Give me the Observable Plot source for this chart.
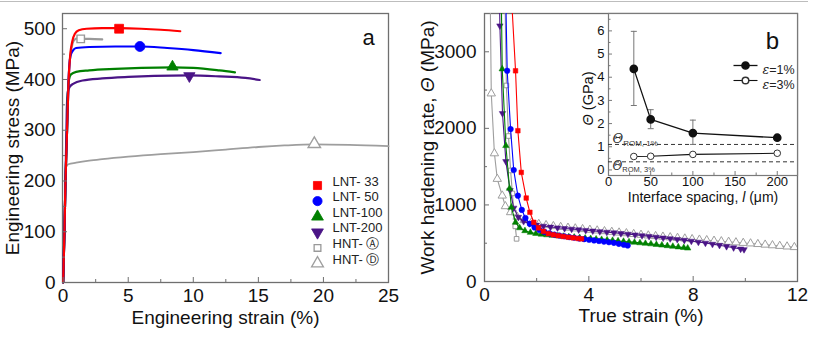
<!DOCTYPE html>
<html><head><meta charset="utf-8">
<script src="https://cdn.jsdelivr.net/npm/d3@7"></script>
<script src="https://cdn.jsdelivr.net/npm/@observablehq/plot@0.6"></script>
<style>
body{margin:0;background:#fff;}
#fig{position:relative;width:824px;height:350px;background:#fff;overflow:hidden;}
#fig > div{position:absolute;}
#topline{left:0;top:1px;width:808px;height:0;border-top:1px solid #bdbdbd;}
</style></head><body>
<div id="fig"><div id="topline"></div><div id="pa" style="left:0;top:0"></div><div id="pb" style="left:400px;top:0"></div><div id="pc" style="left:560px;top:0"></div></div>
<script>
// ---------- DATA: panel a (engineering stress-strain) ----------
const tensileNames = ["LNT- 33","LNT- 50","LNT-100","LNT-200","HNT- \u24B6","HNT- \u24B9"];
const tensileStrain = [
  [0,0.1,0.18,0.3,0.42,0.55,0.7,0.9,1.2,1.8,3,4.3,6,7.5,9],
  [0,0.1,0.18,0.3,0.42,0.55,0.75,1.0,2,4,5.9,8,10,12.1],
  [0,0.1,0.18,0.3,0.38,0.45,0.6,1.0,2,4,6,8.4,10,12,13.2],
  [0,0.1,0.18,0.28,0.35,0.5,0.8,1.5,3,5,7,9.7,12,14,15.1],
  [0,0.1,0.18,0.3,0.42,0.6,0.85,1.1,1.35,2,3.0],
  [0,0.1,0.14,0.2,0.4,1,2,3,5,7.5,10,12.5,15,17,19.3,22,25]
];
const tensileStress = [
  [0,100,200,300,400,450,475,490,497,500,501,501,500,498,495],
  [0,100,200,300,400,445,457,462,464,465,465,462,458,452],
  [0,100,200,300,380,400,410,415,418,421,423,424,423,418,414],
  [0,100,200,340,375,385,392,398,402,405,407,408,406,403,399],
  [0,100,200,300,400,455,478,481,480,480,479],
  [0,100,170,226,233,236,240,243,248,253,257,262,267,270,272,271,268.5]
];
const utsStrain = [4.3,5.9,8.4,9.7,1.35,19.3];
const utsStress = [500,465,425,407,480,273];

// ---------- DATA: panel b (work hardening rate) ----------
const whStrain = [
  [1.02,1.19,1.28,1.41,1.60,1.74,1.89,2.07,2.26,2.45,2.64,2.83,3.02,3.21,3.40,3.59,3.72],
  [0.81,0.87,1.00,1.12,1.28,1.43,1.57,1.74,1.92,2.11,2.30,2.49,2.68,2.87,3.06,3.25,3.44,3.63,3.82,4.01,4.20,4.39,4.58,4.77,4.96,5.15,5.34,5.49],
  [0.64,0.68,0.82,0.96,1.03,1.19,1.35,1.55,1.76,1.97,2.18,2.39,2.60,2.81,3.02,3.23,3.44,3.65,3.86,4.07,4.28,4.49,4.70,4.91,5.12,5.33,5.54,5.75,5.96,6.17,6.38,6.59,6.80,7.01,7.22,7.43,7.64,7.79],
  [0.57,0.59,0.69,0.82,0.98,1.12,1.30,1.50,1.72,1.99,2.26,2.53,2.80,3.07,3.34,3.61,3.88,4.15,4.42,4.69,4.96,5.23,5.50,5.77,6.04,6.31,6.58,6.85,7.12,7.39,7.66,7.93,8.20,8.47,8.74,9.01,9.28,9.55,9.82,9.95],
  [0.78,0.84,0.92,1.00,1.07,1.13,1.18,1.23],
  [0.22,0.26,0.38,0.49,0.68,0.80,1.00,1.25,1.52,1.80,2.08,2.36,2.64,2.92,3.20,3.48,3.76,4.04,4.32,4.60,4.88,5.16,5.44,5.72,6.00,6.28,6.56,6.84,7.12,7.40,7.68,7.96,8.24,8.52,8.80,9.08,9.36,9.64,9.92,10.20,10.48,10.76,11.04,11.32,11.60,11.88]
];
const whRate = [
  [3800,2752,1969,1425,1090,904,773,700,655,625,610,598,588,578,570,562,557],
  [3800,2752,1990,1456,1121,935,830,752,705,672,648,628,612,600,590,580,571,562,553,545,537,529,521,513,505,492,480,470],
  [3800,2775,1773,1216,969,773,700,662,640,626,616,608,601,595,589,583,577,571,565,559,553,547,541,535,529,523,517,511,504,497,490,482,474,466,458,450,442,435],
  [3800,3340,2195,1568,1190,960,840,785,758,738,724,712,702,693,685,677,669,661,653,645,637,628,619,610,600,590,580,570,560,550,540,528,515,502,488,474,458,442,425,418],
  [3800,2560,1900,1450,1150,900,720,557],
  [3700,2455,1673,1339,1121,982,904,845,800,770,750,735,722,711,701,692,683,674,665,656,647,638,629,619,609,600,592,584,576,568,560,552,545,538,531,524,517,510,503,496,488,480,472,464,456,448]
];

// ---------- DATA: inset (theta vs interface spacing) ----------
const spacing = [30, 50, 100, 200];
const theta1 = [4.36, 2.18, 1.59, 1.39];
const theta1Lo = [2.78, 1.78, 1.10, 1.34];
const theta1Hi = [5.98, 2.60, 2.15, 1.44];
const theta3 = [0.58, 0.59, 0.67, 0.72];
const theta3Lo = [0.55, 0.55, 0.62, 0.66];
const theta3Hi = [0.62, 0.64, 0.72, 0.78];
const thetaROM = [1.10, 0.35];
const romLabels = ["\u0398ROM, 1%", "\u0398ROM, 3%"];
const insetLegend = ["\u03B5=1%", "\u03B5=3%"];

// ---------- STYLES ----------
const FONT = "'Liberation Sans', Arial, Helvetica, sans-serif";
const fmt = d => String(d);
const triDown = {draw(ctx, size){const s=Math.sqrt(size*4/Math.sqrt(3));const h=s*Math.sqrt(3)/2;ctx.moveTo(0,2*h/3);ctx.lineTo(-s/2,-h/3);ctx.lineTo(s/2,-h/3);ctx.closePath();}};
const capSym = {draw(ctx){ctx.moveTo(-3,0);ctx.lineTo(3,0);}};
const legLine = {draw(ctx){ctx.moveTo(-12,0);ctx.lineTo(12,0);}};
const series = [
  {color:"#ff0000", symbol:"square",   fill:"#ff0000", rA:5,   rB:2.6, rL:4.6},
  {color:"#0000ff", symbol:"circle",   fill:"#0000ff", rA:5,   rB:2.8, rL:4.6},
  {color:"#008000", symbol:"triangle", fill:"#008000", rA:4.2, rB:2.4, rL:4.4},
  {color:"#4a1486", symbol:triDown,    fill:"#4a1486", rA:4.2, rB:2.4, rL:4.4},
  {color:"#999999", symbol:"square",   fill:"white",   rA:4.2, rB:2.6, rL:3.8},
  {color:"#9e9e9e", symbol:"triangle", fill:"white",   rA:4.6, rB:3.1, rL:4.4}
];
const drawOrder = [5,4,3,2,1,0];
const frameColor = "#6f6f6f";

function rich(svg, plain, parts){
  d3.select(svg).selectAll("text").filter(function(){return this.textContent === plain;}).each(function(){
    const t = d3.select(this); t.text(null);
    parts.forEach(p=>{const s=t.append("tspan").text(p.t); if(p.style) s.attr("style",p.style); if(p.dy!=null) s.attr("dy",p.dy);});
  });
}

// ---------- PANEL A ----------
{
  const W=400,H=340,ml=62,mr=12,mt=13,mb=58, pw=W-ml-mr, ph=H-mt-mb;
  const marks = [Plot.frame({stroke:frameColor, strokeWidth:1.3})];
  for (const i of drawOrder) {
    const rows = tensileStrain[i].map((x,j)=>({x, y:tensileStress[i][j]}));
    marks.push(Plot.line(rows,{x:"x",y:"y",stroke:series[i].color,strokeWidth:i===5?1.8:2.2,curve:"monotone-x"}));
  }
  for (const i of drawOrder) {
    const s = series[i];
    marks.push(Plot.dot([{x:utsStrain[i], y:utsStress[i]}],{x:"x",y:"y",symbol:s.symbol,r:s.rA,fill:s.fill,stroke:s.color,strokeWidth:s.fill==="white"?1.4:0.8}));
  }
  marks.push(Plot.tickX([0,5,10,15,20,25],{x:d=>d,stroke:frameColor,insetTop:ph-5}));
  marks.push(Plot.tickX([2.5,7.5,12.5,17.5,22.5],{x:d=>d,stroke:frameColor,insetTop:ph-3}));
  marks.push(Plot.tickY([0,100,200,300,400,500],{y:d=>d,stroke:frameColor,insetRight:pw-5}));
  marks.push(Plot.tickY([50,150,250,350,450],{y:d=>d,stroke:frameColor,insetRight:pw-3}));
  tensileNames.forEach((name,i)=>{
    const s = series[i];
    marks.push(Plot.dot([0],{frameAnchor:"bottom-right",dx:-71,dy:-97+15.6*i,symbol:s.symbol,r:s.rL,fill:s.fill,stroke:s.color,strokeWidth:s.fill==="white"?1.3:0.8}));
    marks.push(Plot.text([name],{text:d=>d,frameAnchor:"bottom-right",dx:-56,dy:-97+15.6*i,textAnchor:"start",fontSize:13,fill:"#222"}));
  });
  marks.push(Plot.text(["a"],{text:d=>d,frameAnchor:"top-right",dx:-20,dy:16,textAnchor:"middle",fontSize:22,fill:"#111"}));
  marks.push(Plot.text(["Engineering strain (%)"],{text:d=>d,frameAnchor:"bottom",dy:41,textAnchor:"middle",fontSize:19,fill:"#111"}));
  marks.push(Plot.text(["Engineering stress (MPa)"],{text:d=>d,frameAnchor:"left",dx:-50,rotate:-90,textAnchor:"middle",lineAnchor:"middle",fontSize:19,fill:"#111"}));
  const p = Plot.plot({
    width:W,height:H,marginLeft:ml,marginRight:mr,marginTop:mt,marginBottom:mb,
    style:{fontFamily:FONT,fontSize:"19px",color:"#111",background:"none",overflow:"visible"},
    x:{domain:[-0.05,25],ticks:[0,5,10,15,20,25],tickFormat:fmt,tickSize:0,tickPadding:6,label:null},
    y:{domain:[0,530],ticks:[0,100,200,300,400,500],tickFormat:fmt,tickSize:0,tickPadding:7,label:null},
    marks
  });
  document.getElementById("pa").appendChild(p);
}

// ---------- PANEL B ----------
{
  const W=424,H=340,ml=84,mr=27,mt=13,mb=59, pw=W-ml-mr, ph=H-mt-mb;
  const marks = [Plot.frame({stroke:frameColor, strokeWidth:1.3})];
  for (const i of drawOrder) {
    const s = series[i];
    const rows = whStrain[i].map((x,j)=>({x, y:whRate[i][j]}));
    marks.push(Plot.line(rows,{x:"x",y:"y",stroke:s.color,strokeWidth:1.1,clip:true}));
    marks.push(Plot.dot(rows,{x:"x",y:"y",symbol:s.symbol,r:s.rB,fill:s.fill,stroke:s.color,strokeWidth:s.fill==="white"?1:0.5,clip:true}));
  }
  marks.push(Plot.tickX([0,4,8,12],{x:d=>d,stroke:frameColor,insetTop:ph-5}));
  marks.push(Plot.tickX([2,6,10],{x:d=>d,stroke:frameColor,insetTop:ph-3}));
  marks.push(Plot.tickY([0,1000,2000,3000],{y:d=>d,stroke:frameColor,insetRight:pw-5}));
  marks.push(Plot.tickY([500,1500,2500],{y:d=>d,stroke:frameColor,insetRight:pw-3}));
  marks.push(Plot.text(["True strain (%)"],{text:d=>d,frameAnchor:"bottom",dy:40,textAnchor:"middle",fontSize:19,fill:"#111"}));
  marks.push(Plot.text(["Work hardening rate, \u0398 (MPa)"],{text:d=>d,frameAnchor:"left",dx:-57,rotate:-90,textAnchor:"middle",lineAnchor:"middle",fontSize:19,fill:"#111"}));
  const p = Plot.plot({
    width:W,height:H,marginLeft:ml,marginRight:mr,marginTop:mt,marginBottom:mb,
    style:{fontFamily:FONT,fontSize:"19px",color:"#111",background:"none",overflow:"visible"},
    x:{domain:[0,12],ticks:[0,4,8,12],tickFormat:fmt,tickSize:0,tickPadding:6,label:null},
    y:{domain:[0,3500],ticks:[0,1000,2000,3000],tickFormat:fmt,tickSize:0,tickPadding:8,label:null},
    marks
  });
  rich(p,"Work hardening rate, \u0398 (MPa)",[{t:"Work hardening rate, "},{t:"\u0398",style:"font-style:italic"},{t:" (MPa)"}]);
  document.getElementById("pb").appendChild(p);
}

// ---------- INSET ----------
{
  const W=240,H=210,ml=48,mr=3,mt=13,mb=35, pw=W-ml-mr, ph=H-mt-mb;
  const r1 = spacing.map((l,i)=>({l, t:theta1[i], lo:theta1Lo[i], hi:theta1Hi[i]}));
  const r3 = spacing.map((l,i)=>({l, t:theta3[i], lo:theta3Lo[i], hi:theta3Hi[i]}));
  const marks = [
    Plot.frame({fill:"white",stroke:"#7a7a7a",strokeWidth:1.2}),
    Plot.ruleY(thetaROM,{y:d=>d,stroke:"#333",strokeWidth:1,strokeDasharray:"4,3"}),
    Plot.ruleX(r1,{x:"l",y1:"lo",y2:"hi",stroke:"#777",strokeWidth:1}),
    Plot.dot(r1,{x:"l",y:"hi",symbol:capSym,fill:"none",stroke:"#777",strokeWidth:1}),
    Plot.dot(r1,{x:"l",y:"lo",symbol:capSym,fill:"none",stroke:"#777",strokeWidth:1}),
    Plot.ruleX(r3,{x:"l",y1:"lo",y2:"hi",stroke:"#777",strokeWidth:1}),
    Plot.dot(r3,{x:"l",y:"hi",symbol:capSym,fill:"none",stroke:"#777",strokeWidth:1}),
    Plot.dot(r3,{x:"l",y:"lo",symbol:capSym,fill:"none",stroke:"#777",strokeWidth:1}),
    Plot.line(r1,{x:"l",y:"t",stroke:"#111",strokeWidth:1.3}),
    Plot.line(r3,{x:"l",y:"t",stroke:"#111",strokeWidth:1.1}),
    Plot.dot(r1,{x:"l",y:"t",r:3.6,fill:"#111",stroke:"#111"}),
    Plot.dot(r3,{x:"l",y:"t",r:3.3,fill:"white",stroke:"#333",strokeWidth:1}),
    Plot.tickX([0,50,100,150,200],{x:d=>d,stroke:"#7a7a7a",insetTop:ph-4}),
    Plot.tickX([25,75,125,175],{x:d=>d,stroke:"#7a7a7a",insetTop:ph-2.5}),
    Plot.tickY([0,1,2,3,4,5,6],{y:d=>d,stroke:"#7a7a7a",insetRight:pw-4}),
    Plot.tickY([0.5,1.5,2.5,3.5,4.5,5.5,6.5],{y:d=>d,stroke:"#7a7a7a",insetRight:pw-2.5}),
    Plot.text([romLabels[0]],{text:d=>d,y:thetaROM[0],frameAnchor:"left",dx:4,dy:-6,textAnchor:"start",fontSize:13,fill:"#333"}),
    Plot.text([romLabels[1]],{text:d=>d,y:thetaROM[1],frameAnchor:"left",dx:4,dy:4,textAnchor:"start",fontSize:12,fill:"#333"}),
    Plot.dot([0],{frameAnchor:"top-right",dx:-52,dy:52,symbol:legLine,fill:"none",stroke:"#111",strokeWidth:1.3}),
    Plot.dot([0],{frameAnchor:"top-right",dx:-52,dy:52,r:3.6,fill:"#111",stroke:"#111"}),
    Plot.dot([0],{frameAnchor:"top-right",dx:-52,dy:67,symbol:legLine,fill:"none",stroke:"#111",strokeWidth:1.1}),
    Plot.dot([0],{frameAnchor:"top-right",dx:-52,dy:67,r:3.3,fill:"white",stroke:"#333"}),
    Plot.text([insetLegend[0]],{text:d=>d,frameAnchor:"top-right",dx:-35,dy:52,textAnchor:"start",fontSize:12.5,fill:"#222"}),
    Plot.text([insetLegend[1]],{text:d=>d,frameAnchor:"top-right",dx:-35,dy:67,textAnchor:"start",fontSize:12.5,fill:"#222"}),
    Plot.text(["b"],{text:d=>d,frameAnchor:"top-right",dx:-25,dy:18,textAnchor:"middle",fontSize:24,fill:"#111"}),
    Plot.text(["Interface spacing, l (\u03BCm)"],{text:d=>d,frameAnchor:"bottom",dy:26,textAnchor:"middle",fontSize:14,fill:"#111"}),
    Plot.text(["\u0398 (GPa)"],{text:d=>d,frameAnchor:"left",dx:-20,dy:4,rotate:-90,textAnchor:"middle",lineAnchor:"middle",fontSize:14.5,fill:"#111"})
  ];
  const p = Plot.plot({
    width:W,height:H,marginLeft:ml,marginRight:mr,marginTop:mt,marginBottom:mb,
    style:{fontFamily:FONT,fontSize:"13px",color:"#111",background:"none",overflow:"visible"},
    x:{domain:[0,224],ticks:[0,50,100,150,200],tickFormat:fmt,tickSize:0,tickPadding:1,label:null},
    y:{domain:[-0.24,6.75],ticks:[0,1,2,3,4,5,6],tickFormat:fmt,tickSize:0,tickPadding:4,label:null},
    marks
  });
  rich(p,romLabels[0],[{t:"\u0398",style:"font-style:italic;font-size:13px;font-family:'DejaVu Serif',serif"},{t:"ROM, 1%",style:"font-size:8px",dy:"3"}]);
  rich(p,romLabels[1],[{t:"\u0398",style:"font-style:italic;font-size:12px;font-family:'DejaVu Serif',serif"},{t:"ROM, 3%",style:"font-size:7.5px",dy:"2"}]);
  rich(p,insetLegend[0],[{t:"\u03B5",style:"font-style:italic;font-family:'DejaVu Serif',serif"},{t:"=1%"}]);
  rich(p,insetLegend[1],[{t:"\u03B5",style:"font-style:italic;font-family:'DejaVu Serif',serif"},{t:"=3%"}]);
  rich(p,"Interface spacing, l (\u03BCm)",[{t:"Interface spacing, "},{t:"l",style:"font-style:italic"},{t:" (\u03BCm)"}]);
  rich(p,"\u0398 (GPa)",[{t:"\u0398",style:"font-style:italic"},{t:" (GPa)"}]);
  document.getElementById("pc").appendChild(p);
}
</script>
</body></html>
